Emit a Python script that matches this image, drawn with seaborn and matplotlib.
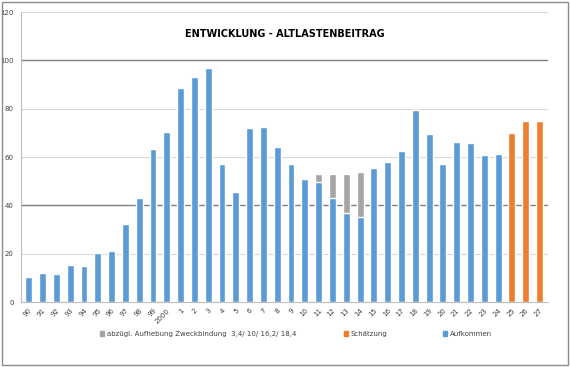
import numpy as np
import pandas as pd
import matplotlib
matplotlib.use("Agg")
import matplotlib.pyplot as plt
import seaborn as sns
from matplotlib.patches import Patch

# Jahre (Kategorien)
jahre = [str(j) for j in range(90, 100)] + ["2000"] + [str(j) for j in range(1, 28)]

# Aufkommen 90 .. 24 (11-14 nach Abzug)
aufkommen = [10.2, 12.2, 11.8, 15.5, 15.0, 20.3, 21.0, 32.2, 43.0, 63.5,
             70.5, 88.5, 93.0, 96.8, 57.2, 45.5, 72.0, 72.3, 64.0, 57.2,
             51.0, 49.6, 43.2, 37.0, 35.4, 55.5, 58.0, 62.5, 79.5, 69.5,
             57.0, 66.2, 65.8, 61.0, 61.3]
jahre_aufkommen = jahre[:35]

# Aufhebung Zweckbindung 11-14
abzug = [3.4, 10.0, 16.2, 18.4]
jahre_abzug = ["11", "12", "13", "14"]

# Schaetzung 25 .. 27
schaetzung = [70.0, 75.0, 75.0]
jahre_schaetzung = ["25", "26", "27"]

blau = "#5B9BD5"
orange = "#ED7D31"
grau = "#A5A5A5"

df_auf = pd.DataFrame({"jahr": jahre_aufkommen, "wert": aufkommen})
idx = [jahre_aufkommen.index(j) for j in jahre_abzug]
df_ges = pd.DataFrame({"jahr": jahre_abzug,
                       "wert": [aufkommen[i] + a for i, a in zip(idx, abzug)]})
df_sch = pd.DataFrame({"jahr": jahre_schaetzung, "wert": schaetzung})

sns.set_style("white")
fig = plt.figure(figsize=(5.7, 3.67), dpi=100)
ax = fig.add_axes([0.036, 0.177, 0.925, 0.79])

w = 0.5
sns.barplot(data=df_ges, x="jahr", y="wert", order=jahre, color=grau,
            width=w, saturation=1, ax=ax)
sns.barplot(data=df_auf, x="jahr", y="wert", order=jahre, color=blau,
            width=w, saturation=1, ax=ax)
sns.barplot(data=df_sch, x="jahr", y="wert", order=jahre, color=orange,
            width=w, saturation=1, ax=ax)
for p in ax.patches:
    p.set_zorder(3)

ax.set_ylim(0, 120)
ax.set_xlim(-0.6, len(jahre) - 0.4)
ax.set_yticks(range(0, 121, 20))
for y in range(20, 121, 20):
    dark = y in (40, 100)
    ax.axhline(y, color="#7f7f7f" if dark else "#d9d9d9",
               lw=1.0 if dark else 0.8, zorder=1)
ax.set_xlabel("")
ax.set_ylabel("")
ax.tick_params(axis="y", labelsize=5, length=3, color="#bfbfbf", pad=2,
               colors="#404040")
ax.tick_params(axis="x", labelsize=5, length=2, color="#bfbfbf", pad=2,
               colors="#404040")
plt.setp(ax.get_xticklabels(), rotation=45, ha="right", rotation_mode="anchor")
for s in ["top", "right"]:
    ax.spines[s].set_visible(False)
ax.spines["left"].set_color("#bfbfbf")
ax.spines["bottom"].set_color("#bfbfbf")
ax.spines["left"].set_linewidth(0.8)
ax.spines["bottom"].set_linewidth(0.8)
ax.spines["bottom"].set_zorder(4)

fig.text(0.5, 0.908, "ENTWICKLUNG - ALTLASTENBEITRAG", ha="center",
         va="center", fontsize=7, fontweight="bold", color="#000000")

# Legende: drei Eintraege an festen Stellen
eintraege = [(grau, "abzügl. Aufhebung Zweckbindung  3,4/ 10/ 16,2/ 18,4", 0.175),
             (orange, "Schätzung", 0.603),
             (blau, "Aufkommen", 0.777)]
for farbe, text, xpos in eintraege:
    fig.legend([Patch(color=farbe)], [text], loc="center left",
               bbox_to_anchor=(xpos, 0.09), frameon=False, fontsize=5,
               handlelength=0.6, handleheight=0.6, handletextpad=0.4,
               borderaxespad=0, borderpad=0, labelcolor="#404040")

# Rahmen
fig.add_artist(plt.Rectangle((0.003, 0.005), 0.993, 0.99, fill=False,
                             ec="#8c8c8c", lw=1.0, transform=fig.transFigure))

fig.savefig("out.png", dpi=100)
